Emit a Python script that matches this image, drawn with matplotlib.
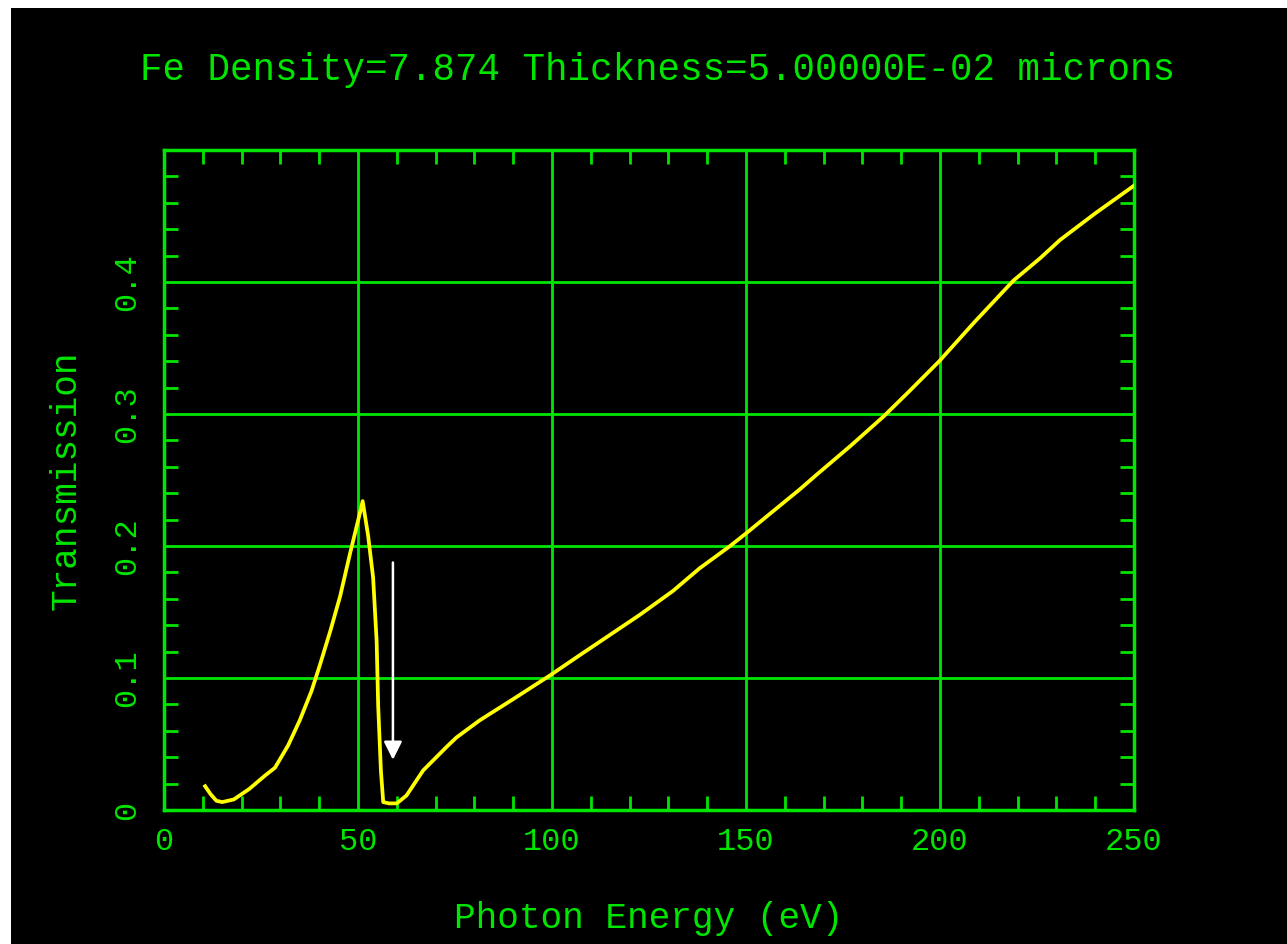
import numpy as np
import matplotlib.pyplot as plt
from matplotlib.patches import Rectangle
from matplotlib.ticker import MultipleLocator

# Fe transmission, 0.05 micron film
energy = [10.6, 12.0, 13.5, 15.0, 18.0, 22.0, 26.0, 28.6, 32.0, 35.0, 38.0,
          40.2, 43.0, 45.4, 48.0, 50.5, 51.2, 52.6, 53.9, 54.8, 55.2, 55.9,
          56.5, 58.0, 60.0, 62.5, 66.8, 72.9, 75.4, 81.4, 90.0, 99.5, 107.0,
          114.1, 122.7, 131.2, 138.0, 145.9, 150.2, 156.0, 163.9, 168.2,
          177.0, 185.4, 192.0, 199.8, 209.0, 218.9, 225.8, 231.0, 240.0,
          250.0]
transmission = [0.018, 0.012, 0.007, 0.006, 0.008, 0.016, 0.026, 0.032,
                0.049, 0.068, 0.090, 0.110, 0.137, 0.162, 0.195, 0.225,
                0.234, 0.208, 0.176, 0.128, 0.079, 0.030, 0.006, 0.005,
                0.005, 0.011, 0.030, 0.048, 0.055, 0.068, 0.084, 0.102,
                0.117, 0.131, 0.148, 0.166, 0.183, 0.200, 0.210, 0.224,
                0.243, 0.254, 0.276, 0.298, 0.317, 0.340, 0.370, 0.401,
                0.418, 0.432, 0.452, 0.473]

edge_x = 59.0
arrow_from = 0.1875
arrow_to = 0.038

green = '#00e600'
mono = 'Liberation Mono'

fig = plt.figure(figsize=(12.87, 9.44), dpi=100)
fig.patch.set_facecolor('white')
fig.patches.append(Rectangle((11 / 1287, 0), 1 - 11 / 1287, 1 - 8 / 944,
                             transform=fig.transFigure, facecolor='black',
                             edgecolor='none', zorder=-10))

ax = fig.add_axes([164 / 1287, 1 - 810 / 944, 970 / 1287, 660 / 944])
ax.set_facecolor('black')
ax.set_xlim(0, 250)
ax.set_ylim(0, 0.5)

ax.plot(energy, transmission, color='#ffff00', lw=2.7, zorder=3,
        solid_joinstyle='round')
ax.annotate('', xy=(edge_x, arrow_to), xytext=(edge_x, arrow_from),
            arrowprops=dict(arrowstyle='-|>,head_length=1.1,head_width=0.55',
                            color='white', lw=1.8, shrinkA=0, shrinkB=0),
            zorder=4)

ax.xaxis.set_major_locator(MultipleLocator(50))
ax.xaxis.set_minor_locator(MultipleLocator(10))
ax.yaxis.set_major_locator(MultipleLocator(0.1))
ax.yaxis.set_minor_locator(MultipleLocator(0.02))
ax.grid(True, which='major', color=green, lw=2)

for s in ax.spines.values():
    s.set_color(green)
    s.set_linewidth(2.5)

ax.tick_params(which='both', direction='in', top=True, right=True,
               color=green, width=2)
ax.tick_params(which='major', length=0)
ax.tick_params(which='minor', length=10)
ax.tick_params(axis='x', labelsize=23, labelcolor=green, pad=12)
ax.tick_params(axis='y', labelsize=23, labelcolor=green, labelrotation=90,
               pad=16)

ax.set_xticks([0, 50, 100, 150, 200, 250])
ax.set_xticklabels(['0', '50', '100', '150', '200', '250'], family=mono)
ax.set_yticks([0, 0.1, 0.2, 0.3, 0.4])
ax.set_yticklabels(['0', '0.1', '0.2', '0.3', '0.4'], family=mono, va='center')

ax.set_xlabel('Photon Energy (eV)', color=green, fontsize=26, family=mono,
              labelpad=32)
ax.set_ylabel('Transmission', color=green, fontsize=26, family=mono,
              labelpad=20)

fig.text(658 / 1287, 1 - 70 / 944,
         'Fe Density=7.874 Thickness=5.00000E-02 microns',
         color=green, fontsize=27, family=mono, ha='center', va='center')

fig.savefig('out.png', dpi=100, facecolor=fig.get_facecolor())
